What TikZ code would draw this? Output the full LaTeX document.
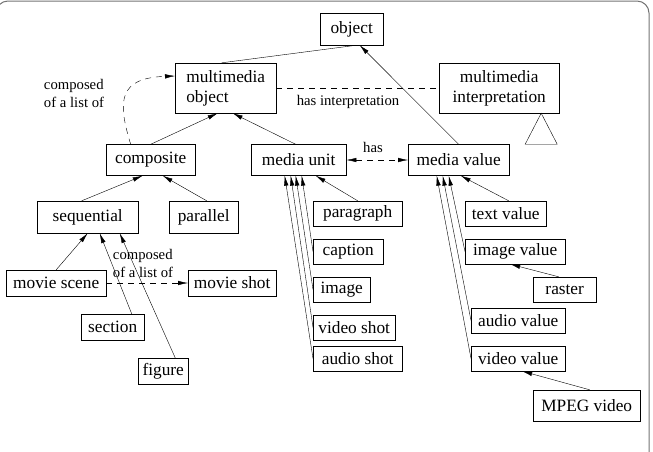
\documentclass[tikz,border=0pt]{standalone}
\usepackage{fontspec}
\setmainfont{Liberation Serif}
\usetikzlibrary{arrows.meta}

\begin{document}
\begin{tikzpicture}[x=1pt,y=-1pt,
  every node/.style={font=\fontsize{17.3}{20}\selectfont},
  box/.style={draw,anchor=west,inner sep=0pt,minimum height=25pt},
  tall/.style={minimum height=32pt},
  lbl/.style={font=\fontsize{14.7}{18}\selectfont,align=left,inner sep=0pt},
  arr/.style={-{Latex[length=10pt,width=4.5pt]}},
  dsh/.style={dash pattern=on 6pt off 5pt}]
  \useasboundingbox (0,0) rectangle (653,451);
  \begin{scope}
    \clip (0,0) rectangle (653,451);
    \draw[black!55,line width=1pt,rounded corners=12pt] (-4,1) rectangle (649,470);
  \end{scope}

  \node[box,tall,minimum width=63pt] (obj) at (320,29) {object};
  \node[box,minimum width=101pt,minimum height=50pt,align=left] (mmobj) at (175,88) {multimedia\\object};
  \node[box,minimum width=120pt,minimum height=50pt,align=center] (mminterp) at (439,88) {multimedia\\interpretation};

  \node[box,minimum width=89pt,minimum height=31pt] (composite) at (106,160) {composite};
  \node[box,minimum width=95pt,minimum height=31pt] (munit) at (251,160) {media unit};
  \node[box,minimum width=101pt,minimum height=31pt] (mvalue) at (408,160) {media value};

  \node[box,tall,minimum width=101pt] (sequential) at (37,217) {sequential};
  \node[box,tall,minimum width=69pt] (parallel) at (169,217) {parallel};
  \node[box,minimum width=100pt,minimum height=26pt] (mscene) at (6,283) {movie scene};
  \node[box,minimum width=88pt,minimum height=26pt] (mshot) at (188,283) {movie shot};
  \node[box,minimum width=63pt,minimum height=26pt] (section) at (81,327) {section};
  \node[box,minimum width=50pt,minimum height=26pt] (figure) at (138,371) {figure};

  \node[box,minimum width=89pt] (paragraph) at (313,213.5) {paragraph};
  \node[box,minimum width=70pt] (caption) at (313,251.5) {caption};
  \node[box,minimum width=57pt] (image) at (313,289.5) {image};
  \node[box,minimum width=82pt] (vshot) at (313,327.5) {video shot};
  \node[box,minimum width=89pt] (ashot) at (313,358.5) {audio shot};

  \node[box,minimum width=81pt] (tvalue) at (465,213.5) {text value};
  \node[box,minimum width=100pt] (ivalue) at (465,251.5) {image value};
  \node[box,minimum width=63pt] (raster) at (533,289.5) {raster};
  \node[box,minimum width=94pt] (avalue) at (471,320.5) {audio value};
  \node[box,minimum width=94pt] (vvalue) at (471,358.5) {video value};
  \node[box,minimum width=107pt,minimum height=31pt] (mpeg) at (533,405.5) {MPEG video};

  % labels
  \node[lbl] (lcomp) at (74,93) {composed\\of a list of};
  \node[lbl] (linterp) at (348,102) {has interpretation};
  \node[lbl] (lhas) at (373,147) {has};
  \node[lbl] (lshot) at (143,263) {composed\\of a list of};

  % is-a links
  \draw ([xshift=-4pt]mmobj.north) -- ([xshift=5pt]obj.south);
  \draw[arr] (mvalue.north) -- ([xshift=8pt]obj.south);
  \draw[arr] (composite.north) -- ([xshift=-8pt]mmobj.south);
  \draw[arr] ([xshift=-3pt]munit.north) -- ([xshift=7pt]mmobj.south);
  \draw[arr] ([xshift=-6pt]sequential.north) -- ([xshift=-8pt]composite.south);
  \draw[arr] ([xshift=3pt]parallel.north) -- ([xshift=12pt]composite.south);
  \draw[arr] (mscene.north) -- (sequential.south);
  \draw[arr] ([xshift=19pt]section.north) -- ([xshift=12pt]sequential.south);
  \draw[arr] ([xshift=12pt]figure.north) -- ([xshift=32pt]sequential.south);
  \draw[arr] (paragraph.north) -- ([xshift=17pt]munit.south);
  \foreach \n/\s in {caption/3,image/-3,vshot/-8,ashot/-14}
    \draw[arr] (\n.west) -- ([xshift=\s pt]munit.south);
  \draw[arr] ([xshift=3pt]tvalue.north) -- ([xshift=2pt]mvalue.south);
  \foreach \n/\s in {ivalue/-10,avalue/-16,vvalue/-22}
    \draw[arr] (\n.west) -- ([xshift=\s pt]mvalue.south);
  \draw[arr] ([xshift=-6pt]raster.north) -- ([xshift=-5pt]ivalue.south);
  \draw[arr] ([xshift=3pt]mpeg.north) -- ([xshift=4pt]vvalue.south);

  % other relations
  \draw[dsh,arr] ([xshift=-20pt]composite.north) .. controls (117,100) and (119,78) .. ([yshift=12pt]mmobj.west);
  \draw[dsh] (mmobj) -- (mminterp);
  \draw[dsh,{Latex[length=10pt,width=4.5pt]}-{Latex[length=10pt,width=4.5pt]}] (munit) -- (mvalue);
  \draw[dsh,arr] (mscene) -- (mshot);
  \draw ([xshift=42pt]mminterp.south) -- ++(-16,31) -- ++(32,0) -- cycle;
\end{tikzpicture}
\end{document}
